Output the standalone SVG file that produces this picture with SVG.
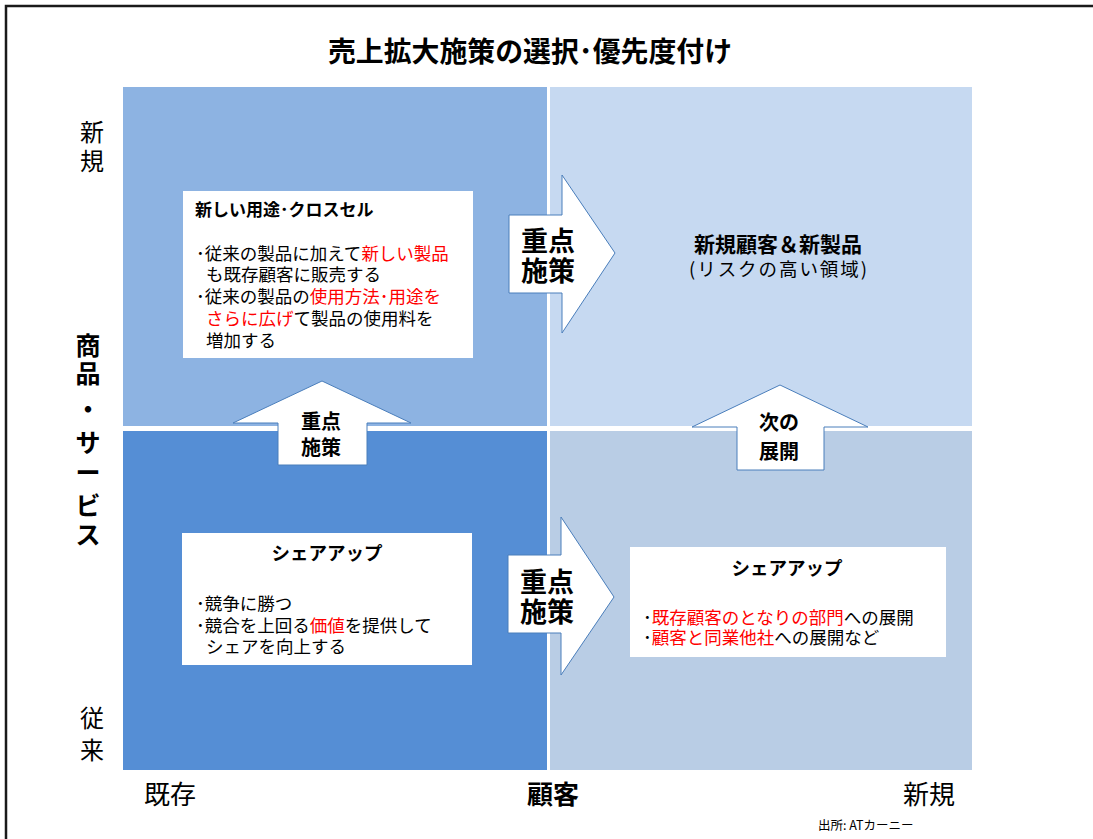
<svg xmlns="http://www.w3.org/2000/svg" width="1093" height="839" viewBox="0 0 1093 839">
<style>
text{font-family:"Noto Sans CJK JP","Noto Sans CJK SC",sans-serif;fill:#000}
.b{font-weight:bold}
.body{font-size:17.5px}
.r{fill:#FF0000}
.arrow{fill:#FFFFFF;stroke:#4A7EBB;stroke-width:1}
.box{fill:#FFFFFF}
.ax{font-size:24px}
.axb{font-size:25px;font-weight:bold}
</style>
<rect width="1093" height="839" fill="#FFFFFF"/>
<path d="M6,839 V6 H1093" fill="none" stroke="#1a1a1a" stroke-width="2.5"/>
<text x="530" y="62" class="b" font-size="28" text-anchor="middle" textLength="404" lengthAdjust="spacingAndGlyphs">売上拡大施策の選択･優先度付け</text>

<g id="quadrants">
<rect id="q-tl" x="123" y="87" width="424" height="339" fill="#8DB3E2"/>
<rect id="q-tr" x="550" y="87" width="422" height="339" fill="#C6D9F1"/>
<rect id="q-bl" x="123" y="431" width="424" height="339" fill="#558ED5"/>
<rect id="q-br" x="550" y="431" width="422" height="339" fill="#B9CDE5"/>
</g>

<g id="axis-labels">
<text x="92" y="141" class="ax" text-anchor="middle">新</text>
<text x="92" y="170" class="ax" text-anchor="middle">規</text>
<text x="88" y="355" class="axb" text-anchor="middle">商</text>
<text x="88" y="383" class="axb" text-anchor="middle">品</text>
<text x="88" y="419" class="axb" text-anchor="middle">・</text>
<text x="88" y="452" class="axb" text-anchor="middle">サ</text>
<text x="88" y="482" class="axb" text-anchor="middle">ー</text>
<text x="88" y="515" class="axb" text-anchor="middle">ビ</text>
<text x="88" y="544" class="axb" text-anchor="middle">ス</text>
<text x="92" y="727" class="ax" text-anchor="middle">従</text>
<text x="92" y="759" class="ax" text-anchor="middle">来</text>
<text x="170" y="804" font-size="26" text-anchor="middle">既存</text>
<text x="553" y="804" class="b" font-size="26" text-anchor="middle">顧客</text>
<text x="929" y="804" font-size="26" text-anchor="middle">新規</text>
<text x="818" y="830" font-size="12.5">出所: ATカーニー</text>
</g>

<g id="node-tl">
<rect class="box" x="183" y="191" width="290" height="167"/>
<text x="195" y="216" class="b" font-size="17">新しい用途･クロスセル</text>
<text class="body" x="196" y="260">･従来の製品に加えて<tspan class="r">新しい製品</tspan></text>
<text class="body" x="206" y="281">も既存顧客に販売する</text>
<text class="body" x="196" y="303">･従来の製品の<tspan class="r">使用方法･用途を</tspan></text>
<text class="body" x="206" y="325"><tspan class="r">さらに広げ</tspan>て製品の使用料を</text>
<text class="body" x="206" y="347">増加する</text>
</g>

<g id="node-tr">
<text x="778" y="252" class="b" font-size="21" text-anchor="middle">新規顧客＆新製品</text>
<text x="778" y="276" font-size="18.5" text-anchor="middle" textLength="178" lengthAdjust="spacing">(リスクの高い領域)</text>
</g>

<g id="node-bl">
<rect class="box" x="182" y="533" width="290" height="132"/>
<text x="327" y="560" class="b" font-size="18.5" text-anchor="middle">シェアアップ</text>
<text class="body" x="196" y="610">･競争に勝つ</text>
<text class="body" x="196" y="632">･競合を上回る<tspan class="r">価値</tspan>を提供して</text>
<text class="body" x="206" y="653">シェアを向上する</text>
</g>

<g id="node-br">
<rect class="box" x="630" y="547" width="316" height="110"/>
<text x="787" y="575" class="b" font-size="18.5" text-anchor="middle">シェアアップ</text>
<text class="body" x="643" y="624">･<tspan class="r">既存顧客のとなりの部門</tspan>への展開</text>
<text class="body" x="643" y="644">･<tspan class="r">顧客と同業他社</tspan>への展開など</text>
</g>

<g id="connectors">
<g id="arrow-top-right">
<polygon class="arrow" points="509,215 562,215 562,175 615,253 562,333 562,293 509,293"/>
<text x="548" y="251" class="b" font-size="27" text-anchor="middle">重点</text>
<text x="548" y="281" class="b" font-size="27" text-anchor="middle">施策</text>
</g>
<g id="arrow-bottom-right">
<polygon class="arrow" points="508,555 561,555 561,517 614,597 561,675 561,633 508,633"/>
<text x="547" y="592" class="b" font-size="27" text-anchor="middle">重点</text>
<text x="547" y="622" class="b" font-size="27" text-anchor="middle">施策</text>
</g>
<g id="arrow-up-left">
<polygon class="arrow" points="233,423 322,381 411,423 367,423 367,465 278,465 278,423"/>
<text x="321" y="429" class="b" font-size="20" text-anchor="middle">重点</text>
<text x="321" y="455" class="b" font-size="20" text-anchor="middle">施策</text>
</g>
<g id="arrow-up-right">
<polygon class="arrow" points="692,427 780,385 868,427 824,427 824,470 737,470 737,427"/>
<text x="779" y="430" class="b" font-size="20" text-anchor="middle">次の</text>
<text x="779" y="459" class="b" font-size="20" text-anchor="middle">展開</text>
</g>
</g>
</svg>
